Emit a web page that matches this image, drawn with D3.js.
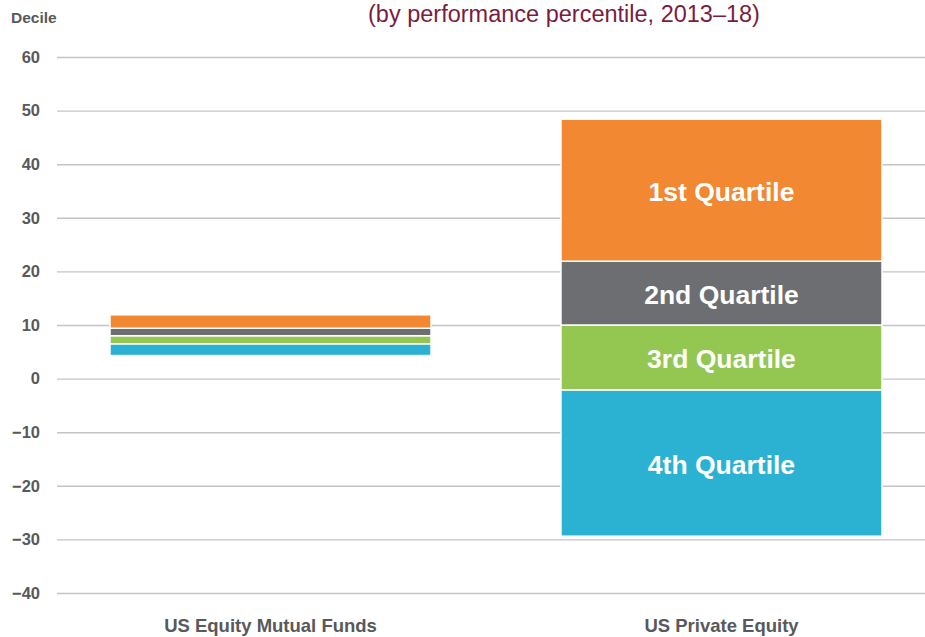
<!DOCTYPE html>
<html>
<head>
<meta charset="utf-8">
<script src="https://cdn.jsdelivr.net/npm/d3@7"></script>
<style>
  html, body { margin: 0; padding: 0; background: #fff; }
  svg { display: block; font-family: "Liberation Sans", Arial, Helvetica, sans-serif; }
</style>
</head>
<body>
<svg id="chart" width="925" height="637"></svg>
<script>
// ---- Data ----
const titleLine2 = "(by performance percentile, 2013–18)";
const yAxisTitle = "Decile";
const categories = ["US Equity Mutual Funds", "US Private Equity"];
const quartiles = ["4th Quartile", "3rd Quartile", "2nd Quartile", "1st Quartile"];
// low / high of each quartile band, per category (order as quartiles)
const mutualFundsLow  = [4.3, 6.5, 8.0, 9.4];
const mutualFundsHigh = [6.5, 8.0, 9.4, 11.9];
const privateEquityLow  = [-29.4, -2.1, 10.0, 21.9];
const privateEquityHigh = [-2.1, 10.0, 21.9, 48.4];
const yTicks = [60, 50, 40, 30, 20, 10, 0, -10, -20, -30, -40];
const colors = ["#2BB2D3", "#94C752", "#6D6E71", "#F28831"];

// ---- Layout ----
const svg = d3.select("#chart");
const plotLeft = 57, plotRight = 925;

const y = d3.scaleLinear().domain([-40, 60]).range([593, 57]);
const x = d3.scaleBand().domain(categories).range([110, 882]).paddingInner(0.2882).paddingOuter(0);
const color = d3.scaleOrdinal().domain(quartiles).range(colors);

// Title (second line; first line lies above the visible area)
svg.append("text").attr("x", 564).attr("y", 22).attr("text-anchor", "middle")
  .attr("font-size", 23.5).attr("fill", "#7B1C3F").text(titleLine2);

// Y axis title
svg.append("text").attr("x", 11).attr("y", 23)
  .attr("font-size", 15.5).attr("font-weight", "bold").attr("fill", "#58595B").text(yAxisTitle);

// Grid + tick labels via d3 axis
const yAxis = d3.axisLeft(y).tickValues(yTicks).tickSize(-(plotRight - plotLeft)).tickPadding(17).tickFormat(d3.format("d"));
const gAxis = svg.append("g").attr("transform", `translate(${plotLeft},0)`).call(yAxis);
gAxis.select(".domain").remove();
gAxis.selectAll(".tick line").attr("stroke", "#C4C4C4").attr("stroke-width", 1.4);
gAxis.selectAll(".tick text").attr("font-size", 16.5).attr("font-weight", "bold")
  .attr("fill", "#58595B").attr("font-family", "Liberation Sans, Arial, sans-serif");

// Bars
const rows = [];
quartiles.forEach((q, i) => {
  rows.push({cat: categories[0], q, lo: mutualFundsLow[i], hi: mutualFundsHigh[i]});
  rows.push({cat: categories[1], q, lo: privateEquityLow[i], hi: privateEquityHigh[i]});
});
svg.append("g").selectAll("rect").data(rows).join("rect")
  .attr("x", d => x(d.cat))
  .attr("width", x.bandwidth())
  .attr("y", d => y(d.hi))
  .attr("height", d => y(d.lo) - y(d.hi))
  .attr("fill", d => color(d.q))
  .attr("stroke", "#fff").attr("stroke-width", 1.5);

// Labels inside private equity bar
svg.append("g").selectAll("text").data(rows.filter(d => d.cat === categories[1])).join("text")
  .attr("x", d => x(d.cat) + x.bandwidth() / 2)
  .attr("y", d => (y(d.lo) + y(d.hi)) / 2 + 10.5)
  .attr("text-anchor", "middle")
  .attr("font-size", 26.5).attr("font-weight", "bold").attr("fill", "#fff")
  .text(d => d.q);

// Category labels
svg.append("g").selectAll("text").data(categories).join("text")
  .attr("x", d => x(d) + x.bandwidth() / 2)
  .attr("y", 632)
  .attr("text-anchor", "middle")
  .attr("font-size", 18.5).attr("font-weight", "bold").attr("fill", "#58595B")
  .text(d => d);
</script>
</body>
</html>
